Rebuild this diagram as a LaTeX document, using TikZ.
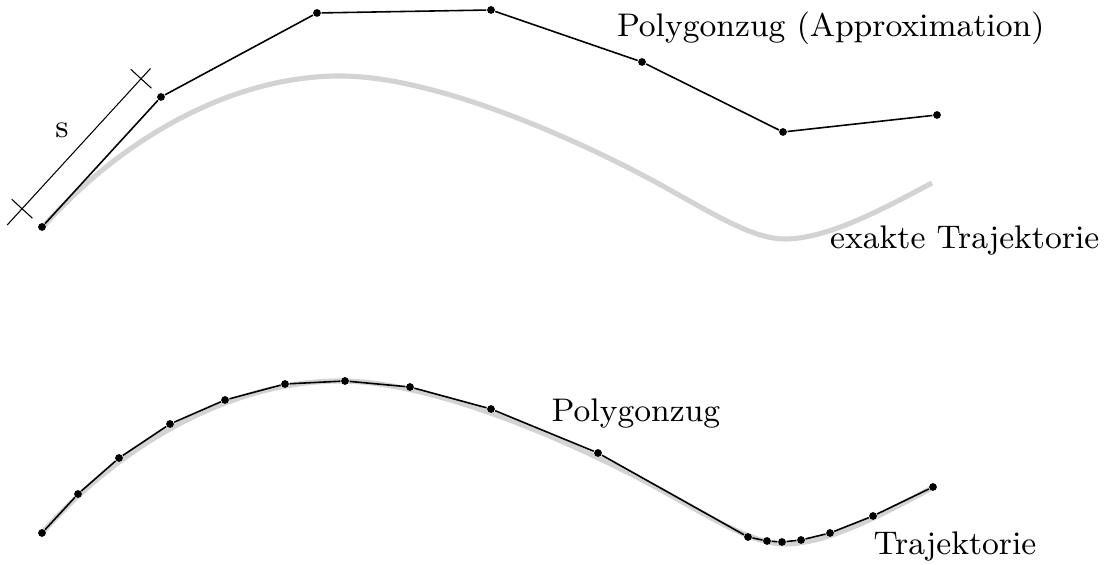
\documentclass[tikz,border=0pt]{standalone}
\usetikzlibrary{calc}
\definecolor{trajgray}{RGB}{211,211,213}
\begin{document}
\begin{tikzpicture}[x=0.01cm,y=-0.01cm,
  vertex/.style={circle,fill=black,inner sep=0pt,minimum size=2.2pt},
  poly/.style={line width=0.45pt,black},
  traj/.style={line width=1.45pt,trajgray},
  dimline/.style={line width=0.3pt,black},
  txt/.style={font=\fontsize{9.3}{11}\selectfont,inner sep=0pt,anchor=base west}]
\useasboundingbox (0,0) rectangle (1109,565);

% the exact trajectory, drawn twice
\foreach \dy in {0,305}{
  \draw[traj,shift={(0,\dy)}] (42,228)
    .. controls (120,140) and (230,76) .. (340,76)
    .. controls (440,76) and (590,145) .. (670,190)
    .. controls (720,218) and (755,239) .. (785,239)
    .. controls (830,239) and (890,205) .. (932,183);
}

% coarse polygon with long steps
\foreach \p [count=\i from 0] in {(42,227),(161,97),(317,13),(491,10),(642,62),(783,132),(937,115)}
  \node[vertex] (a\i) at \p {};
\draw[poly] (a0) -- (a1) -- (a2) -- (a3) -- (a4) -- (a5) -- (a6);

% step length s
\coordinate (t0) at ($(a0.center)!0.27cm!90:(a1.center)$);
\coordinate (t1) at ($(a1.center)!0.27cm!-90:(a0.center)$);
\coordinate (e0) at ($(t0)!-0.22cm!(t1)$);
\coordinate (e1) at ($(t1)!-0.14cm!(t0)$);
\coordinate (k0a) at ($(t0)!0.14cm!90:(t1)$);
\coordinate (k0b) at ($(t0)!0.14cm!-90:(t1)$);
\coordinate (k1a) at ($(t1)!0.14cm!90:(t0)$);
\coordinate (k1b) at ($(t1)!0.14cm!-90:(t0)$);
\draw[dimline] (e0) -- (e1);
\draw[dimline] (k0a) -- (k0b);
\draw[dimline] (k1a) -- (k1b);
\node[txt,anchor=base] (slab) at (62,138) {s};

% fine polygon with short steps
\foreach \p [count=\i from 0] in {(42,533),(78,494),(119,458),(170,424),(225,400),(285,384),(345,381),(410,387),(491,409),(598,453),(748,537),(767,541),(782,542),(801,540),(830,533),(873,516),(933,487)}
  \node[vertex] (b\i) at \p {};
\draw[poly] (b0) -- (b1) -- (b2) -- (b3) -- (b4) -- (b5) -- (b6) -- (b7) -- (b8)
  -- (b9) -- (b10) -- (b11) -- (b12) -- (b13) -- (b14) -- (b15) -- (b16);

% labels
\node[txt,anchor=base east] (lab1) at (1045,37) {Polygonzug (Approximation)};
\node[txt,anchor=base east] (lab2) at (1100,249) {exakte Trajektorie};
\node[txt] (lab3) at (551,422) {Polygonzug};
\node[txt] (lab4) at (873,555) {Trajektorie};
\end{tikzpicture}
\end{document}
